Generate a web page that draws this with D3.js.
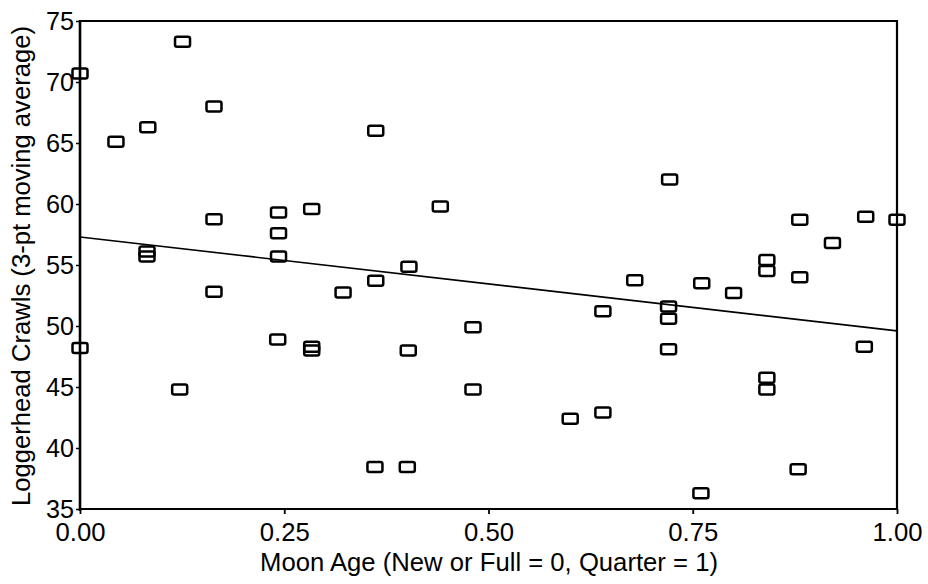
<!DOCTYPE html>
<html>
<head>
<meta charset="utf-8">
<script src="https://cdn.jsdelivr.net/npm/d3@7"></script>
<style>
  html, body { margin: 0; padding: 0; background: #fff; }
  svg { display: block; }
  text { font-family: "Liberation Sans", Arial, Helvetica, sans-serif; fill: #000; }
</style>
</head>
<body>
<svg id="chart" width="928" height="584"></svg>
<script>
// Data
const moonAge = [
  0.000, 0.000, 0.044, 0.083, 0.082, 0.082, 0.122, 0.1255, 0.164, 0.164, 0.164,
  0.243, 0.243, 0.243, 0.242, 0.2836, 0.2836, 0.2836, 0.322, 0.362, 0.362, 0.361,
  0.4026, 0.4018, 0.4006, 0.441, 0.481, 0.481, 0.600, 0.640, 0.640, 0.679,
  0.7217, 0.7204, 0.7204, 0.7204, 0.761, 0.760, 0.800, 0.8407, 0.8407, 0.8407, 0.8407,
  0.881, 0.881, 0.879, 0.921, 0.9617, 0.960, 1.000
];
const crawls = [
  70.7, 48.2, 65.1, 66.3, 56.1, 55.7, 44.8, 73.3, 68.0, 58.75, 52.8,
  59.3, 57.6, 55.7, 48.9, 59.6, 48.3, 48.0, 52.75, 66.0, 53.7, 38.45,
  54.85, 48.0, 38.45, 59.8, 49.9, 44.8, 42.4, 51.2, 42.9, 53.75,
  62.0, 51.6, 50.6, 48.1, 53.5, 36.3, 52.7, 55.4, 54.5, 45.75, 44.8,
  58.7, 54.0, 38.25, 56.8, 58.96, 48.3, 58.7
];
// Fitted line endpoints
const fitX = [0, 1];
const fitY = [57.3, 49.6];
// Tick labels
const xTicks = [0, 0.25, 0.5, 0.75, 1.0];
const xTickLabels = ["0.00", "0.25", "0.50", "0.75", "1.00"];
const yTicks = [35, 40, 45, 50, 55, 60, 65, 70, 75];
const xTitle = "Moon Age (New or Full = 0, Quarter = 1)";
const yTitle = "Loggerhead Crawls (3-pt moving average)";

const svg = d3.select("#chart");
const L = 80, R = 897, T = 21, B = 509;

const x = d3.scaleLinear().domain([0, 1]).range([L, R]);
const y = d3.scaleLinear().domain([35, 75]).range([B, T]);

// Frame
svg.append("line").attr("x1", L).attr("x2", L).attr("y1", T - 1).attr("y2", B + 2)
  .attr("stroke", "#000").attr("stroke-width", 2.6);
svg.append("line").attr("x1", R).attr("x2", R).attr("y1", T - 1).attr("y2", B + 1)
  .attr("stroke", "#000").attr("stroke-width", 2.2);
svg.append("line").attr("x1", L).attr("x2", R).attr("y1", T).attr("y2", T)
  .attr("stroke", "#000").attr("stroke-width", 1.8);
svg.append("line").attr("x1", L).attr("x2", R).attr("y1", B).attr("y2", B)
  .attr("stroke", "#000").attr("stroke-width", 1.8);

// Y axis
const yAxis = d3.axisLeft(y).tickValues(yTicks).tickSize(4).tickPadding(2)
  .tickFormat(d3.format("d"));
const gy = svg.append("g").attr("transform", `translate(${L},0)`).call(yAxis);
gy.select(".domain").remove();
gy.selectAll(".tick line").attr("stroke", "#000").attr("stroke-width", 1.5);
gy.selectAll(".tick text").attr("font-size", 25).attr("fill", "#000")
  .attr("font-family", '"Liberation Sans", Arial, sans-serif')
  .attr("textLength", 28).attr("lengthAdjust", "spacingAndGlyphs");

// X axis
const xAxis = d3.axisBottom(x).tickValues(xTicks).tickSize(5).tickPadding(9)
  .tickFormat((d, i) => xTickLabels[i]);
const gx = svg.append("g").attr("transform", `translate(0,${B})`).call(xAxis);
gx.select(".domain").remove();
gx.selectAll(".tick line").attr("stroke", "#000").attr("stroke-width", 1.8);
gx.selectAll(".tick text").attr("font-size", 25).attr("fill", "#000")
  .attr("font-family", '"Liberation Sans", Arial, sans-serif')
  .attr("textLength", 50).attr("lengthAdjust", "spacingAndGlyphs");

// Regression line
svg.append("line")
  .attr("x1", x(fitX[0])).attr("y1", y(fitY[0]))
  .attr("x2", x(fitX[1])).attr("y2", y(fitY[1]))
  .attr("stroke", "#000").attr("stroke-width", 1.6);

// Markers
const mw = 15, mh = 10;
svg.append("g").selectAll("rect")
  .data(moonAge.map((d, i) => [d, crawls[i]]))
  .join("rect")
  .attr("x", d => x(d[0]) - mw / 2)
  .attr("y", d => y(d[1]) - mh / 2)
  .attr("width", mw).attr("height", mh)
  .attr("rx", 2).attr("ry", 2)
  .attr("fill", "none")
  .attr("stroke", "#000").attr("stroke-width", 2.5);

// Axis titles
svg.append("text")
  .attr("x", 489).attr("y", 571)
  .attr("text-anchor", "middle")
  .attr("font-size", 25)
  .attr("textLength", 458).attr("lengthAdjust", "spacingAndGlyphs")
  .text(xTitle);

svg.append("text")
  .attr("transform", "translate(30,266) rotate(-90)")
  .attr("text-anchor", "middle")
  .attr("font-size", 25)
  .attr("textLength", 480).attr("lengthAdjust", "spacingAndGlyphs")
  .text(yTitle);
</script>
</body>
</html>
